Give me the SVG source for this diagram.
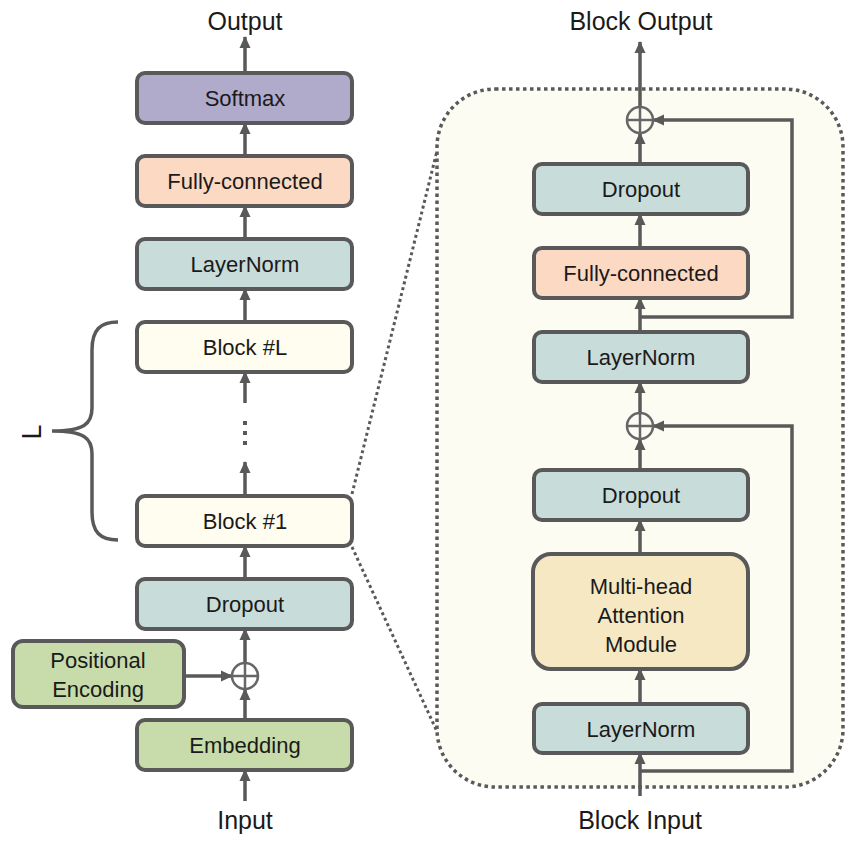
<svg xmlns="http://www.w3.org/2000/svg" width="858" height="850" viewBox="0 0 858 850">
<defs>
<marker id="ah" markerUnits="userSpaceOnUse" markerWidth="12" markerHeight="12" viewBox="0 0 12 12" refX="11" refY="6" orient="auto">
<path d="M0,0.5 L12,6 L0,11.5 z" fill="#595959"/>
</marker>
<style>
.box{stroke:#595959;stroke-width:4}
.t{font-family:"Liberation Sans",Arial,sans-serif;font-size:22px;fill:#1a1a1a;text-anchor:middle;dominant-baseline:central}
.lbl{font-family:"Liberation Sans",Arial,sans-serif;font-size:25px;fill:#1a1a1a;text-anchor:middle}
.c{fill:none;stroke:#595959;stroke-width:3.5}
.a{fill:none;stroke:#595959;stroke-width:3.5;marker-end:url(#ah)}
.plus{fill:none;stroke:#666;stroke-width:2.5}
.cyan{fill:#c8dcd9}.green{fill:#c7dcaa}.peach{fill:#fcd9c3}.purple{fill:#b0aacb}.cream{fill:#fefdf0}.yellow{fill:#f6e8c3}
</style>
</defs>
<rect width="858" height="850" fill="#ffffff"/>

<!-- zoom panel -->
<g id="panel">
<line x1="352" y1="494" x2="437" y2="151" stroke="#595959" stroke-width="3" stroke-dasharray="3 3"/>
<line x1="352" y1="547" x2="440" y2="738" stroke="#595959" stroke-width="3" stroke-dasharray="3 3"/>
<rect x="437" y="89" width="406" height="698" rx="58" ry="58" fill="#fdfcf3" stroke="#595959" stroke-width="3.5" stroke-dasharray="3.5 3.5"/>
</g>

<!-- connectors -->
<g id="connectors">
<line class="a" x1="245" y1="73" x2="245" y2="37"/>
<line class="a" x1="245" y1="155" x2="245" y2="123"/>
<line class="a" x1="245" y1="238" x2="245" y2="206"/>
<line class="a" x1="245" y1="322" x2="245" y2="289"/>
<line class="a" x1="245" y1="403" x2="245" y2="372"/>
<line x1="245" y1="421" x2="245" y2="449" stroke="#595959" stroke-width="4" stroke-dasharray="4 6"/>
<line class="a" x1="245" y1="496" x2="245" y2="462"/>
<line class="a" x1="245" y1="578" x2="245" y2="546"/>
<line class="a" x1="245" y1="663" x2="245" y2="629"/>
<line class="a" x1="245" y1="719" x2="245" y2="689"/>
<line class="a" x1="245" y1="801" x2="245" y2="770"/>
<line class="a" x1="184" y1="676" x2="232" y2="676"/>
<path class="c" d="M118,322 C100,322 92,330 92,350 L92,408 C92,424 84,431 52,431 C84,431 92,438 92,454 L92,512 C92,532 100,540 118,540"/>

<line class="a" x1="640" y1="107" x2="640" y2="42"/>
<line class="a" x1="640" y1="164" x2="640" y2="133"/>
<line class="a" x1="640" y1="247" x2="640" y2="214"/>
<line class="a" x1="640" y1="331" x2="640" y2="298"/>
<line class="a" x1="640" y1="413" x2="640" y2="382"/>
<line class="a" x1="640" y1="470" x2="640" y2="439"/>
<line class="a" x1="640" y1="553" x2="640" y2="520"/>
<line class="a" x1="640" y1="704" x2="640" y2="669"/>
<line class="a" x1="640" y1="796" x2="640" y2="753"/>
<path class="a" d="M640,771 H792 V426 H653" stroke-linejoin="miter"/>
<path class="a" d="M640,317 H792 V120 H653" stroke-linejoin="miter"/>
</g>

<!-- left stack -->
<g id="output-label"><text class="lbl" x="245" y="30">Output</text></g>
<g id="softmax"><rect class="box purple" x="137" y="73" width="215" height="50" rx="8"/><text class="t" x="245" y="98">Softmax</text></g>
<g id="fc-left"><rect class="box peach" x="137" y="156" width="215" height="50" rx="8"/><text class="t" x="245" y="181">Fully-connected</text></g>
<g id="layernorm-left"><rect class="box cyan" x="137" y="239" width="215" height="50" rx="8"/><text class="t" x="245" y="264">LayerNorm</text></g>
<g id="block-L"><rect class="box cream" x="137" y="322" width="215" height="50" rx="8"/><text class="t" x="245" y="347">Block #L</text></g>
<g id="block-1"><rect class="box cream" x="137" y="496" width="215" height="50" rx="8"/><text class="t" x="245" y="521">Block #1</text></g>
<g id="dropout-left"><rect class="box cyan" x="137" y="579" width="215" height="50" rx="8"/><text class="t" x="245" y="604">Dropout</text></g>
<g id="posenc"><rect class="box green" x="13" y="641" width="171" height="66" rx="10"/><text class="t" x="98" y="660">Positional</text><text class="t" x="98" y="689">Encoding</text></g>
<g id="plus-left"><circle class="plus" cx="245" cy="676" r="13"/><line class="plus" x1="232" y1="676" x2="258" y2="676"/><line class="plus" x1="245" y1="663" x2="245" y2="689"/></g>
<g id="embedding"><rect class="box green" x="137" y="720" width="215" height="50" rx="8"/><text class="t" x="245" y="745">Embedding</text></g>
<g id="input-label"><text class="lbl" x="245" y="829">Input</text></g>
<g id="L-label"><text class="lbl" font-size="27" transform="translate(41,432) rotate(-90)" style="font-size:27px">L</text></g>

<!-- right stack -->
<g id="block-output-label"><text class="lbl" x="641" y="30">Block Output</text></g>
<g id="plus-top"><circle class="plus" cx="640" cy="120" r="13" fill="#fdfcf3"/><line class="plus" x1="627" y1="120" x2="653" y2="120"/><line class="plus" x1="640" y1="107" x2="640" y2="133"/></g>
<g id="dropout-r1"><rect class="box cyan" x="534" y="164" width="214" height="50" rx="8"/><text class="t" x="641" y="189">Dropout</text></g>
<g id="fc-right"><rect class="box peach" x="534" y="248" width="214" height="50" rx="8"/><text class="t" x="641" y="273">Fully-connected</text></g>
<g id="layernorm-r1"><rect class="box cyan" x="534" y="332" width="214" height="50" rx="8"/><text class="t" x="641" y="357">LayerNorm</text></g>
<g id="plus-mid"><circle class="plus" cx="640" cy="426" r="13"/><line class="plus" x1="627" y1="426" x2="653" y2="426"/><line class="plus" x1="640" y1="413" x2="640" y2="439"/></g>
<g id="dropout-r2"><rect class="box cyan" x="534" y="470" width="214" height="50" rx="8"/><text class="t" x="641" y="495">Dropout</text></g>
<g id="mha"><rect class="box yellow" x="533" y="554" width="215" height="115" rx="18"/><text class="t" x="641" y="586">Multi-head</text><text class="t" x="641" y="615">Attention</text><text class="t" x="641" y="644">Module</text></g>
<g id="layernorm-r2"><rect class="box cyan" x="534" y="704" width="214" height="49" rx="8"/><text class="t" x="641" y="729">LayerNorm</text></g>
<g id="block-input-label"><text class="lbl" x="640" y="829">Block Input</text></g>
</svg>
